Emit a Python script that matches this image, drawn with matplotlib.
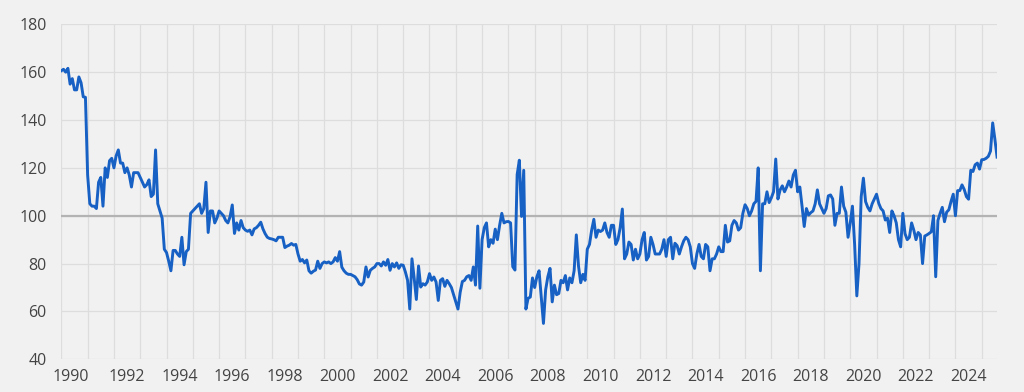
import numpy as np
import matplotlib
matplotlib.use("Agg")
import matplotlib.pyplot as plt

# monthly index values, Jan 1990 .. Aug 2025
y1990 = [160.6, 161.2, 160, 161.6, 155, 157.3, 152.6, 152.6, 158, 155.6, 149.7, 149.5]
y1991 = [117, 105, 104, 104, 103, 114, 116, 104, 120, 116, 123, 124]
y1992 = [120, 125, 127.5, 122, 122, 118, 120, 117, 112, 118, 118, 118]
y1993 = [116, 114, 112, 113, 115, 108, 109, 127.5, 105, 102, 99, 86]
y1994 = [84.6, 81, 77, 85.5, 85.5, 84, 83, 91, 79.5, 85, 86, 101]
y1995 = [102, 103, 104, 105, 101, 103, 114, 93, 102, 102, 97, 99]
y1996 = [102, 101, 100, 98, 97, 99.6, 104.5, 92.6, 97, 94, 98, 95]
y1997 = [94, 93.5, 94, 92, 94.5, 95, 96, 97.3, 94.5, 92.5, 91, 90.5]
y1998 = [90.3, 90, 89.5, 91, 91, 91, 86.7, 87.3, 87.7, 88.4, 87.7, 88]
y1999 = [84, 81, 81.7, 80.3, 81.5, 77, 76, 76.8, 77.3, 81, 78, 80]
y2000 = [80.7, 80.3, 80.7, 80, 80.7, 82.5, 81, 85, 78.5, 77, 76, 75.5]
y2001 = [75.5, 75, 74.5, 73.3, 71.5, 71, 72.3, 78.6, 74.4, 77.2, 78, 78.6]
y2002 = [80, 80, 79, 80.7, 79.3, 81.7, 77.2, 80, 78.6, 80.3, 78, 79.5]
y2003 = [79.3, 76.5, 73, 61, 82, 74, 65, 79, 70.2, 71.6, 71, 72.3]
y2004 = [75.8, 73, 74.4, 72.3, 64.6, 73, 73.7, 70.5, 73, 71.6, 70, 67]
y2005 = [64, 61, 68, 72.5, 73, 74.5, 75, 73, 78.6, 71, 95.7, 69.7]
y2006 = [90, 95, 97, 87, 90, 88.5, 94.4, 90, 96, 101, 97, 97.5]
y2007 = [97.6, 97, 78.7, 77.3, 117.2, 123.2, 99.7, 119, 61, 65.5, 66, 74]
y2008 = [70, 74.5, 77, 66, 55, 69, 74.5, 78, 64, 71, 67, 67.5]
y2009 = [73, 72, 75, 69, 74, 72, 77, 92, 79, 72, 75.5, 73]
y2010 = [86, 88, 94, 98.5, 91, 94, 93.4, 94, 97, 93, 91, 96]
y2011 = [96, 88, 90, 95, 102.8, 82, 84, 89, 88, 81.5, 86, 82]
y2012 = [84, 90, 93, 81.5, 83, 91, 88, 84, 84, 84, 86, 90]
y2013 = [83, 90, 91, 82, 88.5, 87.5, 84, 87, 89.5, 91, 90, 87]
y2014 = [80, 78, 84, 88, 83, 82, 88, 87, 77, 82, 82, 84]
y2015 = [87, 85, 85, 96, 89, 89.5, 96, 98, 97, 94, 95, 101]
y2016 = [104.6, 103, 100, 102, 105, 106, 120, 77, 105, 105, 110, 105.5]
y2017 = [107.5, 110, 123.7, 107, 110.8, 112.5, 110, 112, 114.5, 112, 117, 119]
y2018 = [110, 112, 104, 95.5, 103, 100.3, 101.3, 102, 105, 110.8, 105, 103]
y2019 = [101, 103, 108.3, 108.7, 107, 96, 101, 101, 112, 104, 101.5, 91]
y2020 = [97, 104, 88, 66.5, 80, 108, 115.7, 105.9, 103.5, 102, 105, 107]
y2021 = [109, 105.2, 103, 102, 98.2, 99, 93, 102, 100, 97, 90, 87]
y2022 = [101, 92.5, 90, 91, 97, 94, 90, 93, 92, 80, 91.5, 92]
y2023 = [92.6, 93.3, 100, 74.5, 98, 101, 103.5, 97.5, 101.5, 102.5, 106, 109]
y2024 = [100, 110.5, 110.5, 112.9, 111, 108, 106.9, 119, 118.5, 121.3, 122, 119.5]
y2025 = [123.4, 123.5, 124, 124.8, 127, 138.8, 132, 124.5]

values = (y1990 + y1991 + y1992 + y1993 + y1994 + y1995 + y1996 + y1997 + y1998
          + y1999 + y2000 + y2001 + y2002 + y2003 + y2004 + y2005 + y2006 + y2007
          + y2008 + y2009 + y2010 + y2011 + y2012 + y2013 + y2014 + y2015 + y2016
          + y2017 + y2018 + y2019 + y2020 + y2021 + y2022 + y2023 + y2024 + y2025)
label_years = list(range(1990, 2025, 2))
y_ticks = [40, 60, 80, 100, 120, 140, 160, 180]
baseline = 100

t = 1990 + np.arange(len(values)) / 12

bg = "#f1f1f1"
plt.rcParams["font.family"] = ["Open Sans", "DejaVu Sans"]

fig = plt.figure(figsize=(10.24, 3.92), dpi=100, facecolor=bg)
ax = fig.add_axes([0.0599, 0.0834, 0.9138, 0.8546])
ax.set_facecolor(bg)

ax.axhline(baseline, color="#b3b3b3", lw=1.6, zorder=2)
ax.plot(t, values, color="#1760c4", lw=2.1, zorder=3, solid_joinstyle="round")

ax.set_xlim(1990, t[-1])
ax.set_ylim(40, 180)
ax.set_yticks(y_ticks)
# 1990 label sits a bit left of mid-year in the original
ax.set_xticks([y + (0.37 if y == 1990 else 0.5) for y in label_years])
ax.set_xticklabels([str(y) for y in label_years])
ax.set_xticks(range(1990, 2026), minor=True)

ax.grid(False)
ax.grid(True, axis="y", which="major", color="#dddddd", lw=0.9, zorder=1)
ax.grid(True, axis="x", which="minor", color="#dddddd", lw=0.9, zorder=1)
for s in ax.spines.values():
    s.set_visible(False)
ax.tick_params(axis="both", which="both", length=0, colors="#444444", labelsize=11.5)
ax.tick_params(axis="y", pad=10.5)
ax.tick_params(axis="x", pad=7)

fig.savefig("out.png", dpi=100, facecolor=bg)
